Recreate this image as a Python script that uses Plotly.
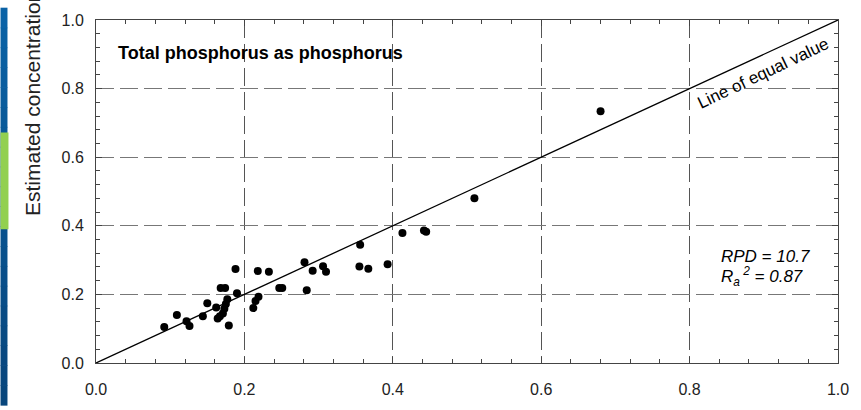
import plotly.graph_objects as go

# Data (measured vs estimated total phosphorus, mg/L)
measured = [0.092, 0.109, 0.122, 0.126, 0.144, 0.150, 0.162, 0.164, 0.168, 0.174,
            0.179, 0.177, 0.175, 0.173, 0.171, 0.167, 0.188, 0.190, 0.218, 0.233,
            0.219, 0.215, 0.212, 0.247, 0.251, 0.281, 0.284, 0.292, 0.306, 0.310,
            0.356, 0.355, 0.367, 0.393, 0.413, 0.442, 0.445, 0.510, 0.680]
estimated = [0.105, 0.140, 0.122, 0.108, 0.136, 0.174, 0.162, 0.130, 0.219, 0.219,
             0.109, 0.186, 0.172, 0.158, 0.144, 0.136, 0.274, 0.203, 0.268, 0.266,
             0.193, 0.181, 0.160, 0.219, 0.219, 0.294, 0.212, 0.269, 0.282, 0.266,
             0.345, 0.281, 0.275, 0.288, 0.379, 0.386, 0.383, 0.480, 0.734]
equal_line = [0.0, 1.0]
tick_vals = [0.0, 0.2, 0.4, 0.6, 0.8, 1.0]
tick_text = ["0.0", "0.2", "0.4", "0.6", "0.8", "1.0"]

W, H = 861, 410
L, R, T, B = 96, 19, 12, 44
PW, PH = W - L - R, H - T - B

def px_to_paper_x(px):
    return (px - L) / PW

def px_to_paper_y(py):
    return (H - B - py) / PH

fig = go.Figure()
fig.add_trace(go.Scatter(x=equal_line, y=equal_line, mode="lines",
                         line=dict(color="black", width=1.3), hoverinfo="skip",
                         showlegend=False))
fig.add_trace(go.Scatter(x=measured, y=estimated, mode="markers",
                         marker=dict(color="black", size=8), showlegend=False))

axis_common = dict(
    range=[0, 1], tickvals=tick_vals, ticktext=tick_text,
    showline=True, linecolor="#444", linewidth=1, mirror="allticks",
    ticks="inside", ticklen=6, tickcolor="#444",
    minor=dict(dtick=0.04, ticks="inside", ticklen=4, tickcolor="#444", showgrid=False),
    showgrid=True, griddash="18px,6px", gridwidth=1,
    zeroline=False, tickfont=dict(family="Liberation Sans, Arial", size=16, color="#222"),
)

fig.update_xaxes(**axis_common, gridcolor="#555", ticklabelstandoff=12)
fig.update_yaxes(**axis_common, gridcolor="#777", ticklabelstandoff=8)

# left decorative strip (blue gradient with green block)
shapes = []
n = 20
top_c = (10, 98, 166)
bot_c = (8, 70, 124)
y0p, y1p = px_to_paper_y(H), px_to_paper_y(0)
for i in range(n):
    f = i / (n - 1)
    c = tuple(int(bot_c[k] + (top_c[k] - bot_c[k]) * f) for k in range(3))
    ya = y0p + (y1p - y0p) * i / n
    yb = y0p + (y1p - y0p) * (i + 1) / n
    shapes.append(dict(type="rect", xref="paper", yref="paper",
                       x0=px_to_paper_x(0), x1=px_to_paper_x(7), y0=ya, y1=yb + 0.002,
                       fillcolor="rgb(%d,%d,%d)" % c, line=dict(width=0), layer="above"))
shapes.append(dict(type="rect", xref="paper", yref="paper",
                   x0=px_to_paper_x(0), x1=px_to_paper_x(8),
                   y0=px_to_paper_y(228), y1=px_to_paper_y(128),
                   fillcolor="#92d050", line=dict(width=0), layer="above"))

annotations = [
    dict(text="Estimated concentration, in milligrams per liter", textangle=-90,
         xref="paper", yref="paper", x=px_to_paper_x(32), y=px_to_paper_y(216),
         xanchor="center", yanchor="bottom", showarrow=False,
         font=dict(family="Liberation Sans, Arial", size=21, color="#222")),
    dict(text="<b>Total phosphorus as phosphorus</b>", xref="x", yref="y",
         x=0.027, y=0.904, xanchor="left", yanchor="middle", showarrow=False,
         font=dict(family="Liberation Sans, Arial", size=18, color="black")),
    dict(text="Line of equal value", textangle=-25.4, xref="x", yref="y",
         x=0.899, y=0.843, xanchor="center", yanchor="middle", showarrow=False,
         font=dict(family="Liberation Sans, Arial", size=17, color="black")),
    dict(text="<i>RPD = 10.7</i>", xref="x", yref="y", x=0.840, y=0.311,
         xanchor="left", yanchor="middle", showarrow=False,
         font=dict(family="Liberation Sans, Arial", size=17, color="black")),
    dict(text="<i>R<sub>a</sub><sup> 2</sup> = 0.87</i>", xref="x", yref="y", x=0.840, y=0.252,
         xanchor="left", yanchor="middle", showarrow=False,
         font=dict(family="Liberation Sans, Arial", size=17, color="black")),
]

fig.update_layout(
    width=W, height=H, margin=dict(l=L, r=R, t=T, b=B),
    paper_bgcolor="white", plot_bgcolor="white",
    shapes=shapes, annotations=annotations, showlegend=False,
)

fig.write_html("out.html")
